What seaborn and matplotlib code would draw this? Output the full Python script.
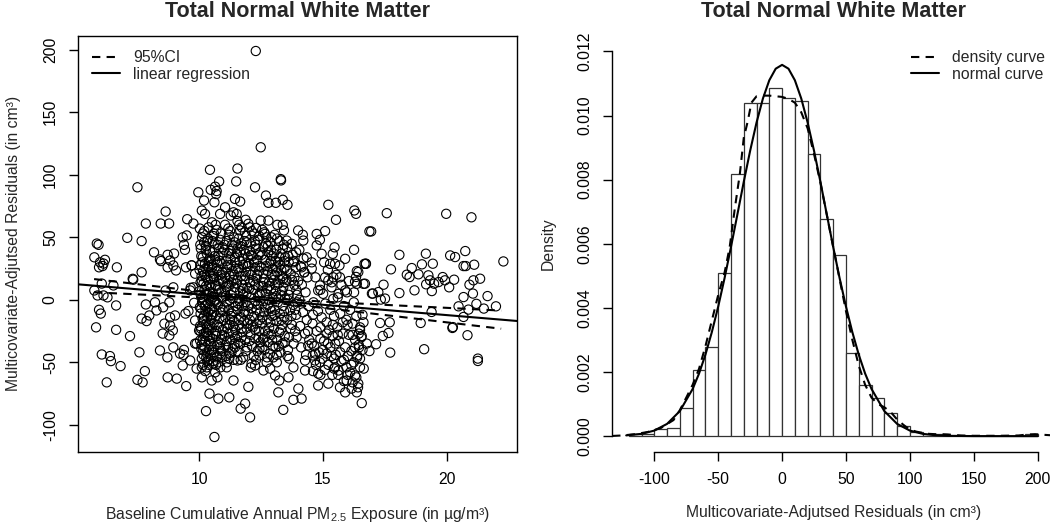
import matplotlib
matplotlib.use("Agg")
import matplotlib.pyplot as plt
from matplotlib.lines import Line2D
import numpy as np
import pandas as pd
import seaborn as sns

# ---------------------------------------------------------------
# Left panel: baseline PM2.5 exposure vs adjusted residuals
# (grouped by area)
# ---------------------------------------------------------------
pts_west = [
    (5.87, 45), (5.94, 44), (5.77, 34), (6.2, 32), (5.96, 26), (6.14, 29), (6.68, 26), (5.77, 7.5),
    (5.9, 3.5), (6.07, 13), (6.14, 3.5), (6.3, 2), (6.54, 11.5), (5.96, -8), (6.03, -11), (5.84, -22),
    (6.65, -4.5), (6.65, -24), (6.07, -43.7), (6.4, -45), (6.44, -49), (6.27, -66), (6.83, -53),
    (7.1, 49.6), (7.21, -29), (7.32, 16.8), (7.51, 90), (7.68, 47), (7.68, 22), (7.59, -42),
    (7.51, -64), (7.72, -66), (7.85, 61), (7.85, -3.7), (7.81, -57), (7.88, -17), (7.68, -15),
    (7.99, -12.5), (8.18, 38), (8.22, -2), (8.28, -8.5), (8.42, -40.5), (8.45, 61), (8.46, 31),
    (8.55, -6), (8.53, -27), (8.6, -19), (8.65, 7.5), (8.65, 70.6), (8.73, 26), (8.72, -46),
    (8.73, -62), (8.79, 61), (8.73, 36), (8.83, 31.5), (8.8, -2), (8.83, -14), (8.83, -20.5),
    (8.8, -28.5), (8.94, -24.5), (8.96, 27.5), (8.99, 37), (9.07, 23.5), (8.96, 10), (8.96, -38),
    (9.1, -63), (9.03, -12.5), (9.23, -43), (9.37, -44), (9.34, -52.5), (9.39, -40), (9.34, 50),
    (9.43, 40), (9.47, 26), (9.45, -11), (9.48, -69), (9.52, 64.5), (9.64, 7.5), (9.66, 9.6),
    (9.7, 27.5), (9.64, -48.5), (9.57, -9), (9.77, 61), (9.77, 10), (9.84, -35), (9.8, -2.4),
    (9.9, -35), (9.9, -55), (9.97, 86), (9.84, -16.5), (9.5, 51.5), (9.39, 44), (8.42, 32.3),
    (9.84, 20.9), (9.7, 27.6), (7.34, 16.1), (6.0, 30), (6.1, 27),
]

pts_core_10 = [
    (10.03, 57), (10.12, 50), (10.2, 46), (10.07, 41), (10.31, 37), (10.15, 34), (10.4, 31),
    (10.05, 28), (10.26, 25), (10.44, 22), (10.1, 19), (10.35, 16), (10.18, 13), (10.47, 10),
    (10.02, 7), (10.29, 4), (10.4, 1), (10.12, -2), (10.23, -5), (10.45, -8), (10.06, -11),
    (10.33, -14), (10.17, -17), (10.42, -20), (10.08, -23), (10.28, -26), (10.37, -29),
    (10.14, -32), (10.46, -35), (10.22, -38), (10.31, -43), (10.11, -47), (10.39, -52),
    (10.25, -57), (10.21, 55), (10.36, 49), (10.28, 43), (10.44, 39), (10.09, 35), (10.24, 29),
    (10.38, 26), (10.16, 23), (10.3, 18), (10.06, 14), (10.41, 12), (10.22, 8), (10.34, 5),
    (10.13, 2), (10.46, -1), (10.27, -4), (10.09, -7), (10.37, -10), (10.2, -13), (10.48, -16),
    (10.29, -19), (10.04, -21), (10.39, -24), (10.19, -27), (10.45, -30), (10.26, -33),
    (10.1, -36), (10.4, -40), (10.18, -44), (10.33, -49),
    (10.15, 53), (10.33, 47), (10.05, 44), (10.27, 40), (10.43, 33), (10.13, 30), (10.35, 27),
    (10.02, 24), (10.22, 20), (10.47, 17), (10.11, 15), (10.28, 11), (10.43, 6), (10.07, 4),
    (10.19, 0), (10.36, -3), (10.03, -6), (10.26, -9), (10.48, -12), (10.14, -15), (10.32, -22),
    (10.05, -25), (10.21, -29), (10.42, -33), (10.09, -39), (10.29, -46), (10.46, -44),
    (10.16, -52),
]

pts_core_105 = [
    (10.52, 62), (10.7, 56), (10.58, 51), (10.85, 48), (10.63, 45), (10.95, 42), (10.55, 38),
    (10.78, 35), (10.66, 32), (10.9, 29), (10.53, 26), (10.74, 23), (10.86, 20), (10.6, 17),
    (10.97, 14), (10.69, 11), (10.81, 8), (10.56, 5), (10.92, 2), (10.64, -1), (10.76, -4),
    (10.51, -7), (10.88, -10), (10.67, -13), (10.98, -16), (10.59, -19), (10.8, -22), (10.7, -25),
    (10.93, -28), (10.54, -31), (10.83, -34), (10.62, -37), (10.9, -41), (10.73, -45),
    (10.57, -49), (10.86, -54), (10.65, -58), (10.6, 53), (10.8, 41), (10.72, 30), (10.58, 21),
    (10.93, 17), (10.76, 9), (10.62, 0), (10.87, -6), (10.55, -12), (10.73, -20), (10.95, -24),
    (10.68, -29), (10.84, -38), (10.6, -42), (10.77, -50),
    (10.67, 60), (10.88, 53), (10.54, 47), (10.75, 44), (10.96, 38), (10.63, 35), (10.83, 31),
    (10.51, 28), (10.71, 25), (10.94, 22), (10.57, 19), (10.79, 15), (10.66, 12), (10.9, 6),
    (10.53, 2), (10.71, -2), (10.95, -8), (10.6, -10), (10.82, -15), (10.52, -22), (10.65, -27),
    (10.89, -32), (10.74, -36), (10.56, -40), (10.94, -46), (10.68, -52),
]

pts_core_11 = [
    (11.05, 60), (11.25, 55), (11.4, 50), (11.12, 47), (11.33, 44), (11.02, 40), (11.2, 37),
    (11.45, 34), (11.1, 31), (11.3, 28), (11.48, 25), (11.07, 22), (11.23, 19), (11.38, 16),
    (11.15, 13), (11.44, 10), (11.04, 7), (11.28, 4), (11.36, 1), (11.11, -2), (11.47, -5),
    (11.19, -8), (11.32, -11), (11.06, -14), (11.41, -17), (11.22, -20), (11.14, -23),
    (11.35, -26), (11.03, -29), (11.27, -32), (11.43, -35), (11.17, -38), (11.31, -42),
    (11.09, -45), (11.2, 52), (11.37, 41), (11.27, 33), (11.13, 26), (11.42, 20), (11.21, 11),
    (11.08, 3), (11.39, -9), (11.25, -16), (11.46, -24), (11.12, -33),
    (11.18, 57), (11.44, 46), (11.03, 44), (11.26, 39), (11.47, 30), (11.17, 28), (11.35, 23),
    (11.05, 18), (11.31, 14), (11.1, 10), (11.41, 6), (11.24, 0), (11.02, -6), (11.29, -13),
    (11.12, -19), (11.38, -21), (11.2, -27), (11.45, -30), (11.07, -36), (11.36, -39),
    (11.22, -43), (11.4, -48),
]

pts_core_115 = [
    (11.55, 63), (11.72, 58), (11.85, 54), (11.6, 49), (11.93, 46), (11.68, 43), (11.8, 40),
    (11.53, 37), (11.97, 34), (11.64, 31), (11.77, 28), (11.58, 25), (11.9, 22), (11.7, 19),
    (11.83, 16), (11.52, 13), (11.95, 10), (11.66, 7), (11.79, 4), (11.6, 1), (11.88, -2),
    (11.73, -5), (11.56, -8), (11.99, -11), (11.69, -14), (11.82, -17), (11.62, -20),
    (11.92, -23), (11.75, -26), (11.54, -29), (11.86, -32), (11.67, -35), (11.94, -38),
    (11.59, -42), (11.78, -46), (11.83, 47), (11.65, 38), (11.89, 29), (11.74, 12), (11.57, -3),
    (11.85, -9), (11.71, -30),
    (11.62, 60), (11.9, 51), (11.7, 45), (11.55, 41), (11.87, 37), (11.75, 33), (11.98, 27),
    (11.63, 22), (11.86, 19), (11.55, 16), (11.78, 9), (11.92, 5), (11.63, -1), (11.97, -5),
    (11.8, -11), (11.6, -16), (11.95, -19), (11.72, -23), (11.58, -34), (11.88, -41),
    (11.68, -48),
]

pts_core_12 = [
    (12.04, 58), (12.22, 53), (12.38, 48), (12.1, 45), (12.3, 41), (12.47, 38), (12.15, 35),
    (12.35, 32), (12.02, 29), (12.26, 26), (12.43, 23), (12.12, 20), (12.32, 17), (12.06, 14),
    (12.4, 11), (12.19, 8), (12.45, 5), (12.09, 2), (12.28, -1), (12.37, -4), (12.13, -7),
    (12.46, -10), (12.23, -13), (12.05, -16), (12.33, -19), (12.17, -22), (12.42, -25),
    (12.08, -28), (12.27, -31), (12.48, -34), (12.14, -37), (12.36, -41), (12.21, -45),
    (12.29, 44), (12.11, 36), (12.44, 27), (12.2, 15), (12.33, -8), (12.1, -20), (12.4, -30),
    (12.13, 55), (12.43, 51), (12.25, 47), (12.05, 39), (12.4, 36), (12.22, 30), (12.07, 23),
    (12.35, 20), (12.26, 12), (12.02, 9), (12.39, 3), (12.15, -3), (12.46, -16), (12.26, -24),
    (12.04, -33), (12.44, -39), (12.3, -48), (12.12, -51),
]

pts_core_125 = [
    (12.55, 56), (12.72, 50), (12.88, 46), (12.6, 42), (12.8, 38), (12.95, 35), (12.65, 32),
    (12.85, 29), (12.52, 26), (12.76, 23), (12.93, 20), (12.62, 17), (12.82, 14), (12.57, 11),
    (12.9, 8), (12.69, 5), (12.97, 2), (12.59, -1), (12.78, -4), (12.87, -7), (12.63, -10),
    (12.96, -13), (12.73, -16), (12.55, -19), (12.83, -22), (12.67, -25), (12.92, -28),
    (12.58, -31), (12.77, -34), (12.98, -37), (12.64, -40), (12.86, -43), (12.7, 45), (12.9, 31),
    (12.6, 21), (12.75, 9), (12.88, -18), (12.66, -30),
    (12.63, 54), (12.92, 50), (12.78, 43), (12.53, 36), (12.9, 40), (12.7, 27), (12.97, 25),
    (12.6, 14), (12.84, 11), (12.53, 6), (12.8, 0), (12.65, -6), (12.93, -9), (12.55, -14),
    (12.8, -27), (12.95, -32), (12.56, -38), (12.75, -46),
]

pts_core_13 = [
    (13.05, 52), (13.25, 47), (13.42, 44), (13.12, 40), (13.32, 37), (13.48, 34), (13.08, 31),
    (13.28, 28), (13.45, 25), (13.15, 22), (13.36, 19), (13.03, 16), (13.22, 13), (13.4, 10),
    (13.1, 7), (13.3, 4), (13.47, 1), (13.18, -2), (13.38, -5), (13.06, -8), (13.26, -11),
    (13.44, -14), (13.13, -17), (13.34, -20), (13.02, -23), (13.24, -26), (13.46, -29),
    (13.16, -32), (13.37, -35), (13.09, -38), (13.29, -42), (13.2, 30), (13.4, 17), (13.12, 3),
    (13.33, -16), (13.22, -37),
    (13.15, 49), (13.38, 41), (13.02, 37), (13.24, 34), (13.45, 31), (13.12, 26), (13.32, 24),
    (13.05, 20), (13.27, 16), (13.48, 14), (13.08, 12), (13.35, 7), (13.2, 1), (13.43, -9),
    (13.05, -12), (13.3, -24), (13.47, -34), (13.14, -44),
]

pts_mid = [
    (13.55, 42), (13.78, 36), (13.62, 30), (13.9, 26), (13.7, 21), (13.53, 16), (13.85, 12),
    (13.66, 8), (13.95, 4), (13.58, 0), (13.8, -4), (13.68, -8), (13.92, -12), (13.56, -16),
    (13.75, -20), (13.88, -25), (13.63, -30), (13.82, -35), (13.59, -40), (13.73, -13),
    (13.97, -2), (13.85, 18), (13.6, 35), (13.83, 31), (13.55, 24), (13.75, 16), (13.93, 8),
    (13.62, 4), (13.88, -8), (13.7, -23), (13.94, -30), (13.57, -45),
    (14.05, 40), (14.22, 33), (14.1, 27), (14.38, 18), (14.15, 12), (14.3, 6), (14.05, 0),
    (14.42, -5), (14.2, -10), (14.35, -16), (14.08, -21), (14.28, -27), (14.45, -32),
    (14.12, -38), (14.32, -44), (14.0, 15), (14.25, 22),
    (14.55, 25), (14.7, 18), (14.9, 8), (14.62, -2), (14.8, -9), (14.95, -14), (14.58, -19),
    (14.75, -25), (14.9, -31), (14.65, -37), (14.85, -42), (14.98, -47), (14.72, -52),
    (14.6, -57), (14.9, -60),
    (15.05, 30), (15.2, 24), (15.35, 10), (15.1, -3), (15.3, -8), (15.45, -13), (15.15, -18),
    (15.25, -24), (15.4, -29), (15.05, -33), (15.3, -38), (15.15, -43), (15.45, -47),
    (15.22, -52), (15.08, -56), (15.38, -60),
    (15.55, 20), (15.75, 12), (15.6, 2), (15.85, -5), (15.7, -11), (15.95, -16), (15.58, -22),
    (15.8, -27), (15.65, -33), (15.9, -38), (15.52, -44), (15.75, -49), (15.95, -54),
    (15.62, -60), (15.85, -65),
    (16.05, 15), (16.25, -2), (16.1, -8), (16.35, -13), (16.2, -19), (16.5, -24), (16.05, -28),
    (16.3, -32), (16.45, -36), (16.15, -41), (16.38, -46), (16.25, -50), (16.5, -54),
    (16.1, -58), (16.35, -62), (16.55, -30), (16.6, -12), (16.2, -66), (16.42, -70),
    (14.4, -25), (14.55, -35), (14.7, -43), (15.0, -40), (15.2, -35), (15.35, -45), (15.5, -35),
    (15.7, -42), (15.85, -48), (16.0, -45), (16.15, -52), (16.3, -38), (16.45, -27),
    (16.6, -40), (16.0, -20), (15.8, -18), (15.6, -28), (15.15, -27), (14.9, -22), (14.6, -12),
    (15.4, -20), (16.2, -28), (16.65, -55), (16.0, -60), (15.45, -55),
]

pts_upper = [
    (12.29, 199), (12.49, 122), (11.55, 105), (10.44, 104), (13.3, 96.5), (13.31, 95.5),
    (11.5, 94.7), (10.81, 94.7), (12.26, 90), (10.65, 90.5), (10.47, 88), (10.69, 84.6),
    (10.71, 87), (12.7, 83.4), (11.45, 80.7), (11.66, 78.6), (13.38, 80), (12.8, 77.6),
    (13.1, 77.6), (13.57, 76), (10.2, 79.4), (10.62, 78), (10.11, 71.4), (10.24, 68.7),
    (11.05, 74), (11.39, 70), (11.52, 68.7), (11.28, 67.4), (10.85, 68.7), (11.88, 64),
    (12.49, 63.4), (12.8, 63.4), (13.16, 60), (13.38, 60), (12.3, 57.5), (13.43, 55.5),
    (14.0, 55.5), (14.19, 52), (14.21, 47.4), (12.66, 52.7), (11.99, 60.8), (10.38, 58),
    (11.66, 55.5), (13.54, 47.4), (13.74, 44.8), (13.92, 38), (13.8, 30), (14.14, 26),
    (14.25, 22), (14.35, 34), (14.55, 30),
    (14.75, 52.7), (15.09, 55), (15.22, 76), (15.53, 64), (14.88, 48), (14.75, 43.5),
    (15.47, 42), (14.95, 36.8), (15.4, 36.8), (15.29, 28.8), (15.49, 28.8), (15.67, 27.5),
    (15.09, 18), (15.22, 15.5), (15.36, 14), (15.42, 18), (15.69, 18), (15.9, 32.8),
    (16.26, 40), (16.27, 71.5), (16.34, 68.8), (16.88, 54.7), (16.37, 23), (16.68, 28.8),
    (16.73, 28.8), (16.64, 12.8), (16.37, 12.8), (16.26, 6), (15.97, 6), (15.9, 7.5),
    (15.63, 4.8), (15.42, 0.8), (14.88, 11.5), (14.81, 7.5), (15.01, 4.8), (16.43, 22.2),
    (16.74, 28.9), (16.34, 18.3), (16.3, 14.5), (16.7, 12.9),
]

pts_lower = [
    (16.88, -41), (16.77, -35), (16.57, -29), (16.5, -22), (16.64, -18), (16.46, -38),
    (16.39, -44.5), (16.5, -47), (16.43, -67), (16.57, -82.6), (16.3, -60.5), (16.37, -74),
    (16.16, -71), (15.96, -64.5), (15.9, -74), (15.69, -70), (15.63, -56.5), (15.49, -54),
    (15.22, -67), (14.81, -68.5), (14.81, -59), (14.88, -50), (14.68, -48.5), (14.59, -44.5),
    (14.41, -36.5), (14.28, -48.5), (14.28, -56.5), (14.14, -79), (14.01, -71), (13.81, -80),
    (13.4, -88), (13.61, -62), (13.81, -54), (13.64, -47), (13.2, -74), (13.24, -64.5),
    (13.07, -60.5), (13.14, -50), (13.0, -46), (12.87, -55), (12.73, -50), (12.6, -56.5),
    (12.44, -44.5), (12.26, -52.5), (12.09, -54), (12.06, -94), (11.99, -69.6), (11.86, -83),
    (11.68, -87), (11.45, -38), (11.39, -64.5), (11.22, -78), (11.55, -48.5), (11.22, -47),
    (11.12, -50), (11.12, -54), (10.78, -79), (10.74, -62), (10.62, -109.7), (10.51, -64.5),
    (10.42, -75), (10.28, -89), (10.11, -62), (10.11, -54), (10.31, -54), (10.38, -48),
    (10.58, -51), (10.71, -46), (10.85, -43), (10.04, -32.5), (10.17, -40.5), (10.0, -24.5),
]

pts_east = [
    (17.58, 69.3), (19.98, 68.8), (21.0, 66), (22.29, 30.7), (16.95, 54.7), (18.09, 36),
    (19.16, 36.9), (20.14, 35.5), (20.34, 34.2), (20.75, 39), (19.44, 28.9), (19.0, 28.4),
    (17.75, 24.4), (18.59, 25.4), (18.5, 18.2), (18.39, 20.1), (18.86, 20.4), (19.26, 19.6),
    (19.17, 12.4), (19.33, 15.6), (19.49, 12.9), (19.67, 14.2), (19.84, 18.2), (19.93, 15.6),
    (20.3, 16.1), (20.68, 27), (20.77, 27), (21.11, 28.1), (20.92, 12.1), (21.08, 15.6),
    (21.35, 16.9), (21.65, 3), (20.68, 2.2), (21.06, 5), (18.7, 7.6), (18.09, 5.4),
    (17.45, 12.1), (17.24, 6.2), (17.02, 5.0), (21.99, -5.2), (20.88, -7.8), (20.68, -13.7),
    (20.84, -28.3), (20.23, -22.5), (20.25, -21.8), (21.26, -47), (21.26, -48.9),
    (20.48, -5.2), (19.09, -39.5), (18.95, -18.5), (19.39, -9.7), (17.72, -42.2),
    (17.65, -26.5), (17.42, -28.9), (17.31, -18.5), (17.15, -35.5), (17.34, 0.2), (17.51, 1),
    (16.98, 5), (17.7, -18), (21.2, -3.2), (21.5, -7), (20.1, 10), (19.4, 7),
]

# fitted regression line and its 95% confidence band
fit_intercept = 20.85
fit_slope = -1.653
ci_x = [5.76, 8, 10, 12, 14, 16, 18, 20, 22.2]
ci_upper = [16.6, 11.4, 6.8, 2.75, -0.25, -2.5, -4.5, -6.4, -8.6]
ci_lower = [6.0, 3.9, 1.8, -0.75, -4.3, -8.7, -13.3, -18.0, -23.1]

# ---------------------------------------------------------------
# Right panel: histogram of residuals (density scale), curves
# ---------------------------------------------------------------
hist_edges = list(range(-120, 201, 10))
hist_density = [
    0.00007, 0.00007, 0.00021, 0.00025, 0.00088, 0.00205, 0.00278, 0.0051,
    0.00818, 0.01038, 0.01038, 0.01086, 0.01055, 0.01046, 0.00881, 0.00676,
    0.00565, 0.0026, 0.00159, 0.00118, 0.00071, 0.00031, 0.00014, 0.00007,
    0.00007, 0, 0, 0, 0, 0, 0, 0.00007,
]

kde_x = [-133, -125, -115, -105, -95, -85, -80, -75, -70, -65, -60, -55, -50, -45, -41, -37,
         -33, -30, -27, -24, -20, -15, -10, -5, 0, 5, 10, 15, 20, 25, 30, 35, 40, 45, 50, 55,
         60, 65, 70, 75, 80, 85, 90, 95, 100, 105, 110, 115, 120, 125, 130, 140, 150, 170,
         185, 192, 198, 205, 213]
kde_y = [0.000005, 0.00002, 0.00006, 0.00013, 0.00025, 0.0005, 0.00081, 0.0012, 0.0016,
         0.0021, 0.0028, 0.0036, 0.0044, 0.0051, 0.0059, 0.0071, 0.0082, 0.0093, 0.0098,
         0.0104, 0.0106, 0.01062, 0.01062, 0.0106, 0.01058, 0.01052, 0.0104, 0.0101, 0.0096,
         0.0088, 0.0079, 0.0069, 0.0059, 0.0049, 0.0039, 0.003, 0.0022, 0.0016, 0.0012, 0.001,
         0.0009, 0.00075, 0.00052, 0.00035, 0.0002, 0.00014, 0.0001, 0.00007, 0.00006,
         0.00006, 0.00005, 0.00002, 0.00001, 0.00001, 0.00002, 0.00005, 0.00006, 0.00004,
         0.00002]

norm_x = [-122, -110, -100, -90, -80, -70, -65, -60, -55, -50, -45, -40, -35, -30, -25, -20,
          -15, -10, -5, 0, 5, 10, 15, 20, 25, 30, 35, 40, 45, 50, 55, 60, 65, 70, 80, 90, 100,
          110, 120, 130, 150, 200]
norm_y = [0.000022, 0.000071, 0.000172, 0.000382, 0.000782, 0.00147, 0.00195, 0.00254,
          0.00324, 0.00404, 0.00493, 0.0059, 0.00691, 0.00793, 0.0089, 0.00978, 0.01053,
          0.0111, 0.01146, 0.01158, 0.01146, 0.0111, 0.01053, 0.00978, 0.0089, 0.00793,
          0.00691, 0.0059, 0.00493, 0.00404, 0.00324, 0.00254, 0.00195, 0.00147, 0.000782,
          0.000382, 0.000172, 0.000071, 0.000027, 0.000009, 0.0000005, 0.0]

TITLE = "Total Normal White Matter"

sns.set_theme(style="ticks")
plt.rcParams["font.family"] = ["Liberation Sans", "DejaVu Sans"]
plt.rcParams["mathtext.fontset"] = "custom"
plt.rcParams["mathtext.rm"] = "Liberation Sans"
plt.rcParams["mathtext.it"] = "Liberation Sans:italic"
plt.rcParams["axes.unicode_minus"] = False
plt.rcParams["axes.linewidth"] = 1.0
plt.rcParams["xtick.major.size"] = 6.5
plt.rcParams["ytick.major.size"] = 6.5
plt.rcParams["xtick.major.width"] = 1.0
plt.rcParams["ytick.major.width"] = 1.0
plt.rcParams["xtick.major.pad"] = 8
plt.rcParams["ytick.major.pad"] = 8
plt.rcParams["xtick.color"] = "black"
plt.rcParams["ytick.color"] = "black"
plt.rcParams["axes.edgecolor"] = "black"

FS = 11.3
W, H = 1050, 523
fig = plt.figure(figsize=(W / 100, H / 100), dpi=100)
ax1 = fig.add_axes([78 / W, 1 - 451.5 / H, 439 / W, 415.5 / H])
ax2 = fig.add_axes([612.4 / W, 1 - 451.5 / H, 441.6 / W, 415.5 / H])

# ---------------- left: scatter + regression ----------------
groups = [pts_west, pts_core_10, pts_core_105, pts_core_11, pts_core_115, pts_core_12,
          pts_core_125, pts_core_13, pts_mid, pts_upper, pts_lower, pts_east]
df = pd.DataFrame([p for g in groups for p in g], columns=["pm25", "resid"])

sns.scatterplot(data=df, x="pm25", y="resid", ax=ax1, marker="o", s=44,
                facecolor="none", edgecolor="black", linewidth=0.8, legend=False)
ax1.axline((0, fit_intercept), slope=fit_slope, color="black", lw=1.5)
sns.lineplot(x=ci_x, y=ci_upper, ax=ax1, color="black", lw=1.5, linestyle=(0, (4, 3)),
             estimator=None, sort=False)
sns.lineplot(x=ci_x, y=ci_lower, ax=ax1, color="black", lw=1.5, linestyle=(0, (4, 3)),
             estimator=None, sort=False)

ax1.set_xlim(5.11, 22.84)
ax1.set_ylim(-121.3, 211.0)
ax1.set_xticks([10, 15, 20])
ax1.set_yticks([-100, -50, 0, 50, 100, 150, 200])
ax1.tick_params(labelsize=FS)
for lab in ax1.get_yticklabels():
    lab.set_rotation(90)
    lab.set_va("center")
ax1.set_xlabel(r"Baseline Cumulative Annual PM$_{\mathrm{2.5}}$ Exposure (in µg/m³)", fontsize=FS)
ax1.set_ylabel("Multicovariate-Adjutsed Residuals (in cm³)", fontsize=FS)
ax1.xaxis.set_label_coords(0.5, (451.5 - 515) / 415.5)
ax1.xaxis.label.set_va("center")
ax1.yaxis.set_label_coords((14 - 78) / 439, 0.5)
ax1.yaxis.label.set_va("center")
ax1.set_title(TITLE, fontsize=15.5, fontweight="bold", pad=14)

handles = [Line2D([], [], color="black", lw=1.5, linestyle=(0, (4, 3))),
           Line2D([], [], color="black", lw=1.5)]
ax1.legend(handles, ["95%CI", "linear regression"], loc="upper left",
           bbox_to_anchor=((92 - 78) / 439, (451.5 - 50) / 415.5), frameon=False,
           fontsize=FS, handlelength=1.8, handletextpad=0.8, borderpad=0,
           borderaxespad=0, labelspacing=0.1)

# ---------------- right: histogram + curves ----------------
mids = [(a + b) / 2 for a, b in zip(hist_edges[:-1], hist_edges[1:])]
sns.histplot(x=mids, weights=hist_density, bins=hist_edges, stat="count", ax=ax2,
             color="white", edgecolor="#333333", linewidth=0.9, alpha=1)
sns.lineplot(x=kde_x, y=kde_y, ax=ax2, color="black", lw=1.5, linestyle=(0, (4, 3)),
             estimator=None, sort=False)
sns.lineplot(x=norm_x, y=norm_y, ax=ax2, color="black", lw=1.5, estimator=None, sort=False)

ax2.set_xlim(-132.8, 212.8)
ax2.set_ylim(-0.00048, 0.01248)
ax2.set_xticks([-100, -50, 0, 50, 100, 150, 200])
ax2.set_yticks([0, 0.002, 0.004, 0.006, 0.008, 0.010, 0.012])
ax2.set_yticklabels([f"{v:.3f}" for v in [0, 0.002, 0.004, 0.006, 0.008, 0.010, 0.012]])
ax2.tick_params(labelsize=FS)
for lab in ax2.get_yticklabels():
    lab.set_rotation(90)
    lab.set_va("center")
ax2.spines["top"].set_visible(False)
ax2.spines["right"].set_visible(False)
ax2.spines["bottom"].set_bounds(-100, 200)
ax2.spines["left"].set_bounds(0, 0.012)
ax2.set_xlabel("Multicovariate-Adjutsed Residuals (in cm³)", fontsize=FS)
ax2.set_ylabel("Density", fontsize=FS)
ax2.xaxis.set_label_coords((833.2 - 612.4) / 441.6, (451.5 - 513) / 415.5)
ax2.xaxis.label.set_va("center")
ax2.yaxis.set_label_coords((548 - 612.4) / 441.6, 0.5)
ax2.yaxis.label.set_va("center")
ax2.set_title(TITLE, fontsize=15.5, fontweight="bold", pad=14)

ax2.legend(handles, ["density curve", "normal curve"], loc="upper left",
           bbox_to_anchor=((910.7 - 612.4) / 441.6, (451.5 - 50) / 415.5), frameon=False,
           fontsize=FS, handlelength=1.8, handletextpad=0.85, borderpad=0,
           borderaxespad=0, labelspacing=0.1)

fig.savefig("out.png", dpi=100, facecolor="white")
